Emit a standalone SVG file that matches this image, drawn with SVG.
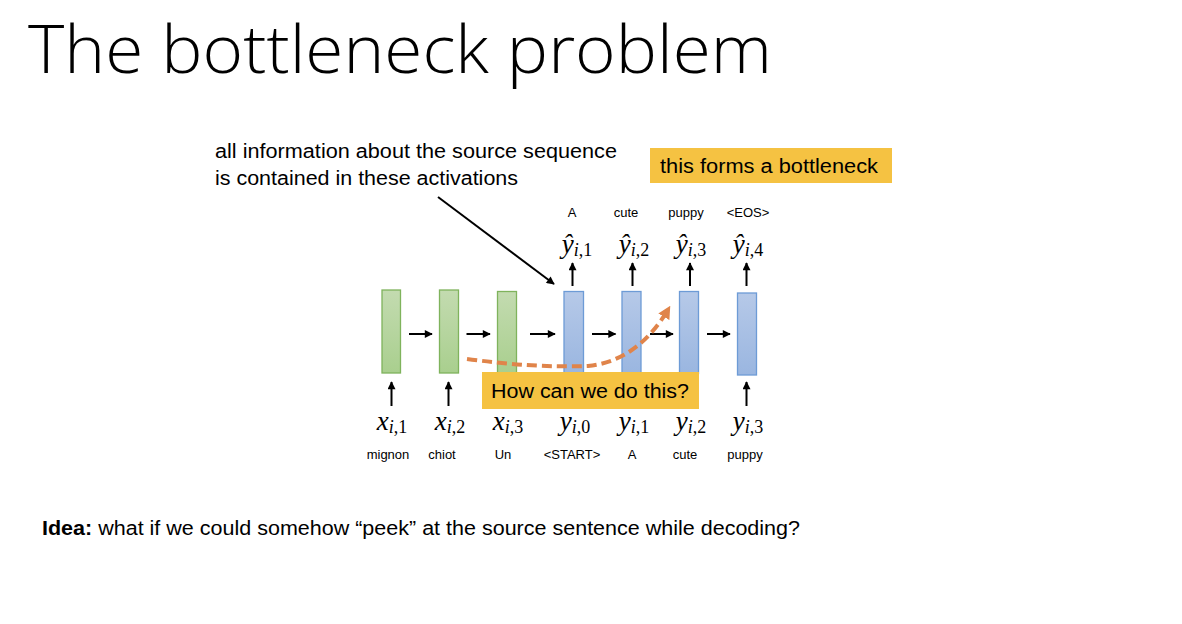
<svg xmlns="http://www.w3.org/2000/svg" width="1182" height="624" viewBox="0 0 1182 624">
<defs>
<linearGradient id="gG" x1="0" y1="0" x2="0" y2="1"><stop offset="0" stop-color="#c3dbb0"/><stop offset="1" stop-color="#a9cf8e"/></linearGradient>
<linearGradient id="gB" x1="0" y1="0" x2="0" y2="1"><stop offset="0" stop-color="#b6c9e8"/><stop offset="1" stop-color="#9ab6e0"/></linearGradient>
<marker id="ah" viewBox="0 0 10 10" refX="9" refY="5" markerWidth="4.5" markerHeight="4" orient="auto" markerUnits="strokeWidth"><path d="M0,0 L10,5 L0,10 z" fill="#000"/></marker>
<marker id="ahO" viewBox="0 0 10 10" refX="8" refY="5" markerWidth="3.2" markerHeight="3.2" orient="auto" markerUnits="strokeWidth"><path d="M0,0 L10,5 L0,10 z" fill="#e0844a"/></marker>
<style>
.t{font-family:"Liberation Sans",Arial,sans-serif;fill:#000}
.s{font-size:13px;text-anchor:middle}
.m{font-family:"Liberation Serif","DejaVu Serif",serif;font-size:27px;text-anchor:middle;fill:#000}
.mi{font-style:italic}
.sub{font-size:18px}
.g{fill:url(#gG);stroke:#7fb35c;stroke-width:1.3}
.b{fill:url(#gB);stroke:#6d9bd6;stroke-width:1.3}
.ar{stroke:#000;stroke-width:2;fill:none;marker-end:url(#ah)}
.y{fill:#f5c242}
</style>
</defs>
<rect width="1182" height="624" fill="#fff"/>
<text id="title" x="28" y="73" font-family="'Open Sans','Lato','Noto Sans',sans-serif" font-size="66" font-weight="300" fill="#000" textLength="744" lengthAdjust="spacingAndGlyphs">The bottleneck problem</text>

<g id="note1">
<text class="t" x="215" y="158" font-size="20" textLength="402" lengthAdjust="spacingAndGlyphs">all information about the source sequence</text>
<text class="t" x="215" y="185" font-size="20" textLength="303" lengthAdjust="spacingAndGlyphs">is contained in these activations</text>
</g>
<g id="note2">
<rect class="y" x="650" y="148" width="242" height="35"/>
<text class="t" x="660" y="173" font-size="20" textLength="218" lengthAdjust="spacingAndGlyphs">this forms a bottleneck</text>
</g>

<g id="enc1"><rect class="g" x="382" y="290" width="18.5" height="83"/></g>
<g id="enc2"><rect class="g" x="439.5" y="290" width="19" height="83"/></g>
<g id="enc3"><rect class="g" x="497.5" y="291.5" width="19" height="82"/></g>
<g id="dec1"><rect class="b" x="564" y="291.5" width="19.5" height="82"/></g>
<g id="dec2"><rect class="b" x="622" y="291.5" width="19" height="82"/></g>
<g id="dec3"><rect class="b" x="679.5" y="291.5" width="19" height="82"/></g>
<g id="dec4"><rect class="b" x="737.5" y="293" width="19" height="82"/></g>

<g id="connectors">
<line class="ar" x1="409" y1="334" x2="432" y2="334"/>
<line class="ar" x1="466.5" y1="334" x2="490" y2="334"/>
<line class="ar" x1="530" y1="334" x2="555" y2="334"/>
<line class="ar" x1="592" y1="334" x2="615.5" y2="334"/>
<line class="ar" x1="650" y1="334" x2="673" y2="334"/>
<line class="ar" x1="707" y1="334" x2="730" y2="334"/>
<line class="ar" x1="391.5" y1="406" x2="391.5" y2="382"/>
<line class="ar" x1="448.5" y1="406" x2="448.5" y2="382"/>
<line class="ar" x1="746.5" y1="406" x2="746.5" y2="382"/>
<line class="ar" x1="572.5" y1="286" x2="572.5" y2="263"/>
<line class="ar" x1="632.5" y1="286" x2="632.5" y2="263"/>
<line class="ar" x1="690" y1="286" x2="690" y2="263"/>
<line class="ar" x1="746.5" y1="286" x2="746.5" y2="263"/>
<line class="ar" x1="438" y1="197" x2="554" y2="284"/>
<path d="M467,359 Q535,368 588,366 Q638,361 669,308" fill="none" stroke="#e0844a" stroke-width="4" stroke-dasharray="10,5" marker-end="url(#ahO)"/>
</g>

<g id="note3">
<rect class="y" x="482" y="372" width="217" height="37"/>
<text class="t" x="491" y="398" font-size="20" textLength="198" lengthAdjust="spacingAndGlyphs">How can we do this?</text>
</g>

<g id="out-labels">
<text class="t s" x="572" y="217">A</text>
<text class="t s" x="626" y="217">cute</text>
<text class="t s" x="686" y="217">puppy</text>
<text class="t s" x="748" y="217">&lt;EOS&gt;</text>
<text class="m" x="577" y="253"><tspan class="mi">ŷ</tspan><tspan class="sub" dy="3"><tspan class="mi">i</tspan>,1</tspan></text>
<text class="m" x="634" y="253"><tspan class="mi">ŷ</tspan><tspan class="sub" dy="3"><tspan class="mi">i</tspan>,2</tspan></text>
<text class="m" x="691" y="253"><tspan class="mi">ŷ</tspan><tspan class="sub" dy="3"><tspan class="mi">i</tspan>,3</tspan></text>
<text class="m" x="748" y="253"><tspan class="mi">ŷ</tspan><tspan class="sub" dy="3"><tspan class="mi">i</tspan>,4</tspan></text>
</g>

<g id="in-labels">
<text class="m" x="392" y="430"><tspan class="mi">x</tspan><tspan class="sub" dy="3"><tspan class="mi">i</tspan>,1</tspan></text>
<text class="m" x="450" y="430"><tspan class="mi">x</tspan><tspan class="sub" dy="3"><tspan class="mi">i</tspan>,2</tspan></text>
<text class="m" x="508" y="430"><tspan class="mi">x</tspan><tspan class="sub" dy="3"><tspan class="mi">i</tspan>,3</tspan></text>
<text class="m" x="575" y="430"><tspan class="mi">y</tspan><tspan class="sub" dy="3"><tspan class="mi">i</tspan>,0</tspan></text>
<text class="m" x="634" y="430"><tspan class="mi">y</tspan><tspan class="sub" dy="3"><tspan class="mi">i</tspan>,1</tspan></text>
<text class="m" x="691" y="430"><tspan class="mi">y</tspan><tspan class="sub" dy="3"><tspan class="mi">i</tspan>,2</tspan></text>
<text class="m" x="748" y="430"><tspan class="mi">y</tspan><tspan class="sub" dy="3"><tspan class="mi">i</tspan>,3</tspan></text>
<text class="t s" x="388" y="459">mignon</text>
<text class="t s" x="442" y="459">chiot</text>
<text class="t s" x="503" y="459">Un</text>
<text class="t s" x="572" y="459">&lt;START&gt;</text>
<text class="t s" x="632" y="459">A</text>
<text class="t s" x="685" y="459">cute</text>
<text class="t s" x="745" y="459">puppy</text>
</g>

<g id="idea">
<text class="t" x="42" y="535" font-size="20" textLength="758" lengthAdjust="spacingAndGlyphs"><tspan font-weight="bold">Idea:</tspan> what if we could somehow “peek” at the source sentence while decoding?</text>
</g>
</svg>
